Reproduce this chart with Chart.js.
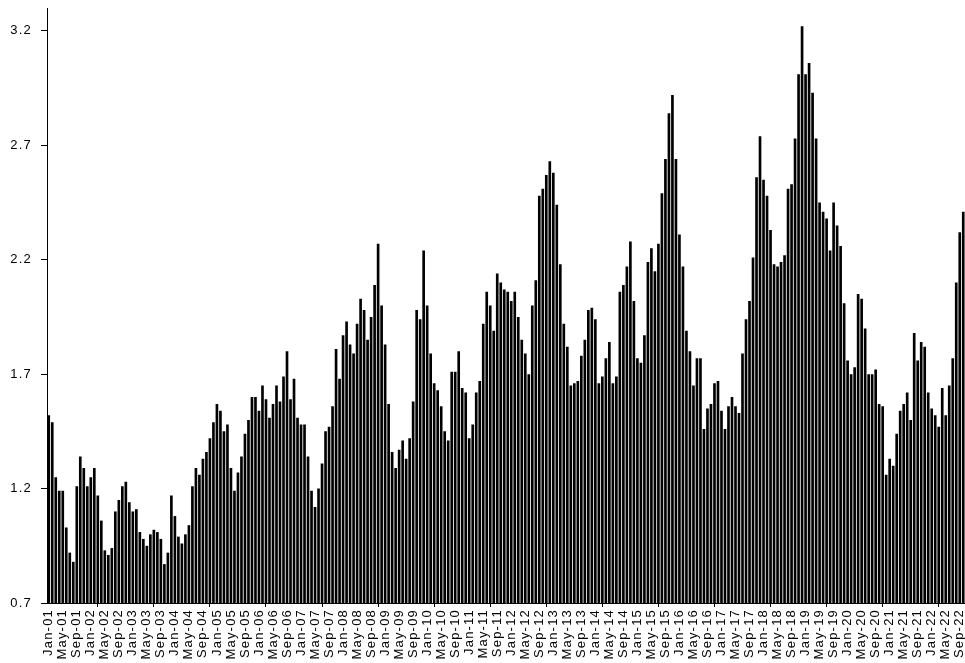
<!DOCTYPE html>
<html>
<head>
<meta charset="utf-8">
<script src="https://cdn.jsdelivr.net/npm/chart.js@4"></script>
<style>
  html, body { margin: 0; padding: 0; background: #fff; }
  canvas { display: block; }
</style>
</head>
<body>
<canvas id="chart" width="965" height="663"></canvas>
<script>
// Monthly price series, Jan 2001 - Oct 2022
const monthNames = ['Jan', 'Feb', 'Mar', 'Apr', 'May', 'Jun', 'Jul', 'Aug', 'Sep', 'Oct', 'Nov', 'Dec'];
const firstYear = 2001;

const prices2001to2005 = [
  1.52, 1.49, 1.25, 1.19, 1.19, 1.03, 0.92, 0.88, 1.21, 1.34, 1.29, 1.21,
  1.25, 1.29, 1.17, 1.06, 0.93, 0.91, 0.94, 1.10, 1.15, 1.21, 1.23, 1.14,
  1.10, 1.11, 1.01, 0.98, 0.95, 1.00, 1.02, 1.01, 0.98, 0.87, 0.92, 1.17,
  1.08, 0.99, 0.96, 1.00, 1.04, 1.21, 1.29, 1.26, 1.33, 1.36, 1.42, 1.49,
  1.57, 1.54, 1.45, 1.48, 1.29, 1.19, 1.27, 1.34, 1.44, 1.50, 1.60, 1.60
];
const prices2006to2010 = [
  1.54, 1.65, 1.59, 1.51, 1.57, 1.65, 1.58, 1.69, 1.80, 1.59, 1.68, 1.51,
  1.48, 1.48, 1.34, 1.19, 1.12, 1.20, 1.31, 1.45, 1.47, 1.56, 1.81, 1.68,
  1.87, 1.93, 1.83, 1.79, 1.92, 2.03, 1.98, 1.85, 1.95, 2.09, 2.27, 2.00,
  1.83, 1.57, 1.36, 1.29, 1.37, 1.41, 1.33, 1.42, 1.58, 1.98, 1.94, 2.24,
  2.00, 1.79, 1.66, 1.63, 1.56, 1.45, 1.41, 1.71, 1.71, 1.80, 1.64, 1.62
];
const prices2011to2015 = [
  1.42, 1.48, 1.62, 1.67, 1.92, 2.06, 2.00, 1.89, 2.14, 2.10, 2.07, 2.06,
  2.02, 2.06, 1.95, 1.85, 1.79, 1.70, 2.00, 2.11, 2.48, 2.51, 2.57, 2.63,
  2.58, 2.44, 2.18, 1.92, 1.82, 1.65, 1.66, 1.67, 1.78, 1.85, 1.98, 1.99,
  1.94, 1.66, 1.69, 1.77, 1.84, 1.66, 1.69, 2.06, 2.09, 2.17, 2.28, 2.02,
  1.77, 1.75, 1.87, 2.19, 2.25, 2.15, 2.27, 2.49, 2.64, 2.84, 2.92, 2.64
];
const prices2016to2020 = [
  2.31, 2.17, 1.89, 1.80, 1.65, 1.77, 1.77, 1.46, 1.55, 1.57, 1.66, 1.67,
  1.54, 1.46, 1.56, 1.60, 1.56, 1.53, 1.79, 1.94, 2.02, 2.21, 2.56, 2.74,
  2.55, 2.48, 2.33, 2.18, 2.17, 2.19, 2.22, 2.51, 2.53, 2.73, 3.01, 3.22,
  3.01, 3.06, 2.93, 2.73, 2.45, 2.41, 2.38, 2.24, 2.45, 2.35, 2.26, 2.01,
  1.76, 1.70, 1.73, 2.05, 2.03, 1.90, 1.70, 1.70, 1.72, 1.57, 1.56, 1.26
];
const prices2021to2022 = [
  1.33, 1.30, 1.44, 1.54, 1.57, 1.62, 1.50, 1.88, 1.76, 1.84, 1.82, 1.62,
  1.55, 1.52, 1.47, 1.64, 1.52, 1.65, 1.77, 2.10, 2.32, 2.41
];

const yTicks = [0.7, 1.2, 1.7, 2.2, 2.7, 3.2];
const labelStep = 4;   // one axis label every four months

const prices = [].concat(prices2001to2005, prices2006to2010, prices2011to2015,
                         prices2016to2020, prices2021to2022);
const monthLabels = prices.map((_, i) =>
  monthNames[i % 12] + '-' + String((firstYear + Math.floor(i / 12)) % 100).padStart(2, '0'));

const axisFont = { family: '"Liberation Sans", Arial, sans-serif', size: 13 };

// wide-set axis lettering
const textSpacing = {
  id: 'textSpacing',
  beforeUpdate(chart) { chart.ctx.letterSpacing = '1.2px'; },
  beforeDraw(chart) { chart.ctx.letterSpacing = '1.2px'; }
};

new Chart(document.getElementById('chart'), {
  type: 'bar',
  data: {
    labels: monthLabels,
    datasets: [{
      data: prices,
      backgroundColor: '#000',
      borderWidth: 0,
      barPercentage: 0.76,
      categoryPercentage: 1
    }]
  },
  options: {
    responsive: false,
    animation: false,
    devicePixelRatio: 1,
    layout: { padding: { top: 8, right: 0, bottom: 0, left: 0 } },
    plugins: { legend: { display: false }, tooltip: { enabled: false } },
    scales: {
      x: {
        grid: {
          offset: true,
          drawOnChartArea: false,
          tickLength: 4,
          tickColor: (ctx) => (ctx.index % labelStep === 0 ? '#000' : 'rgba(0,0,0,0)')
        },
        border: { display: true, color: '#000', width: 1 },
        ticks: {
          autoSkip: false,
          minRotation: 90,
          maxRotation: 90,
          padding: 2,
          color: '#000',
          font: axisFont,
          callback: (v, i) => (i % labelStep === 0 ? monthLabels[i] : null)
        },
        afterFit(scale) { scale.height = 60; scale.paddingLeft = 0; scale.paddingRight = 0; }
      },
      y: {
        min: 0.7,
        max: 3.3,
        afterBuildTicks(scale) { scale.ticks = yTicks.map(v => ({ value: v })); },
        grid: { drawOnChartArea: false, tickLength: 6, tickColor: '#000' },
        border: { display: true, color: '#000', width: 1 },
        ticks: {
          color: '#000',
          padding: 9,
          font: axisFont,
          callback: (v) => Number(v).toFixed(1)
        },
        afterFit(scale) { scale.width = 47; scale.paddingTop = 0; scale.paddingBottom = 0; }
      }
    }
  },
  plugins: [textSpacing]
});
</script>
</body>
</html>
